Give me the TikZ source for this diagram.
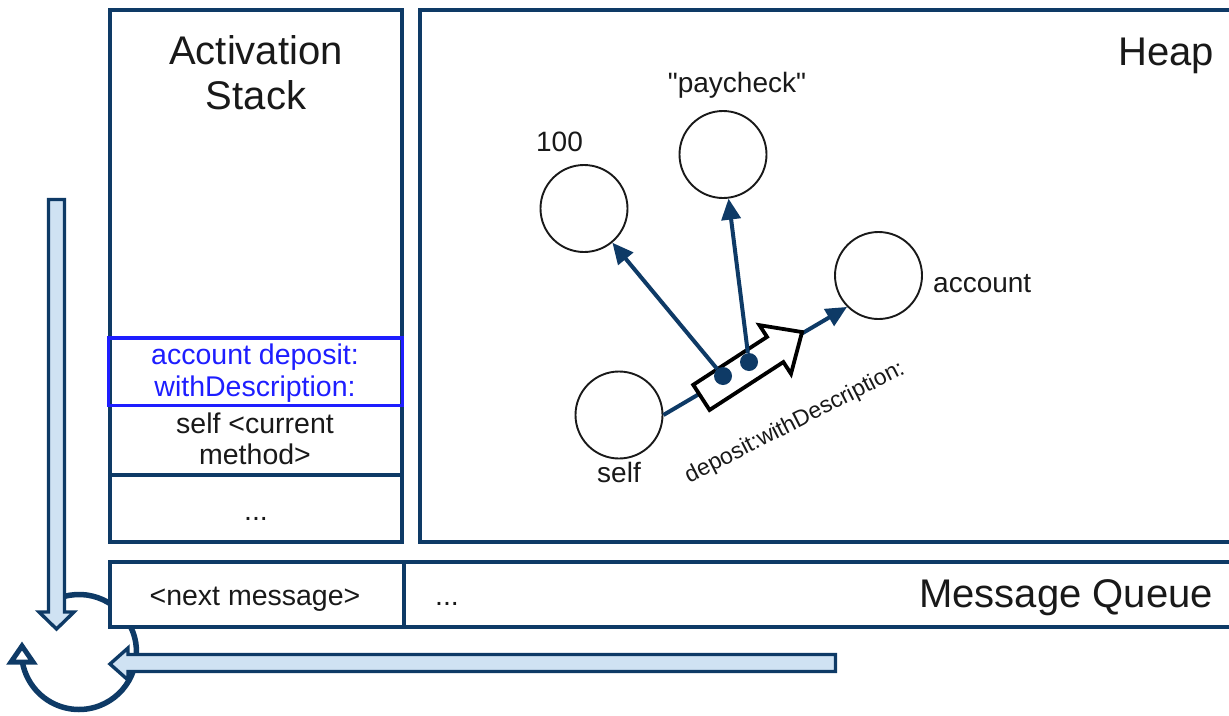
\documentclass[tikz,border=0pt]{standalone}
\usepackage{fontspec}
\setmainfont{Liberation Sans}
\newfontfamily\rawfont{Liberation Sans}[Ligatures=TeXOff]
\usetikzlibrary{arrows.meta}
\definecolor{navy}{RGB}{14,58,102}
\definecolor{ink}{RGB}{25,25,25}
\definecolor{lightblue}{RGB}{207,226,243}
\definecolor{callblue}{RGB}{30,30,255}
\begin{document}
\begin{tikzpicture}[x=1pt,y=1pt,
  frame/.style={draw=navy, line width=4pt},
  callbox/.style={draw=callblue, line width=3.4pt},
  title/.style={font=\fontsize{40}{45}\selectfont, text=ink, inner sep=0, align=center},
  body/.style={font=\fontsize{28.5}{31.5}\selectfont, text=ink, inner sep=0, align=center},
  lbl/.style={font=\fontsize{28}{32}\selectfont, text=ink, inner sep=0},
  obj/.style={circle, draw=ink, line width=1.9pt, minimum size=87pt, inner sep=0},
  ref/.style={draw=navy, line width=4pt, -{Triangle[length=21pt,width=19pt]}},
  refdot/.style={circle, fill=navy, minimum size=18pt, inner sep=0},
  bigarrow/.style={draw=navy, fill=lightblue, line width=3.4pt},
  loopline/.style={draw=navy, line width=5.5pt},
  loophead/.style={draw=navy, fill=white, line width=5pt, line join=miter}
]
\useasboundingbox (0,0) rectangle (1229,-715);
\clip (0,0) rectangle (1229,-715);
% cycle arc (behind everything)
\draw[loopline] (79,-652) ++(105:57.5) arc[start angle=105,end angle=-170,radius=57.5];
\draw[loophead] (11,-662) -- (22,-646) -- (33,-662) -- cycle;
% frames
\draw[frame, fill=white] (109.75,-10) rectangle (402,-541.5);
\draw[frame] (109.75,-474.5) -- (402,-474.5);
\draw[callbox] (108.5,-338) rectangle (402.5,-405.5);
\draw[frame, fill=white] (419.5,-10) rectangle (1240,-541.5);
\draw[frame, fill=white] (109.75,-562) rectangle (1240,-627);
\draw[frame] (403.5,-562) -- (403.5,-627);
% big arrows
\draw[bigarrow] (48.5,-199.5) -- (64.5,-199.5) -- (64.5,-612) -- (74,-612) -- (56.5,-629) -- (39,-612) -- (48.5,-612) -- cycle;
\draw[bigarrow] (835.5,-654.5) -- (128,-654.5) -- (128,-648) -- (110,-664) -- (128,-680) -- (128,-671.5) -- (835.5,-671.5) -- cycle;
% texts
\node[title] (stacktitle) at (256,-73) {Activation\\Stack};
\node[title, anchor=base east] (heaptitle) at (1214,-65) {Heap};
\node[title, anchor=base east] (mqtitle) at (1213,-607) {Message Queue};
\node[body, text=callblue] (call) at (255,-373) {account deposit:\\withDescription:};
\node[body] (cur) at (255,-439) {self <current\\method>};
\node[body, anchor=base] (more) at (256,-520) {...};
\node[body, anchor=base] (next) at (255,-605) {<next message>};
\node[body, anchor=base] (rest) at (447,-605) {...};
% heap objects
\node[obj] (self) at (619,-415) {};
\node[obj] (n100) at (584,-208.5) {};
\node[obj] (pay) at (723,-154.5) {};
\node[obj] (acc) at (878.5,-275.5) {};
\node[lbl, anchor=base] (l100) at (559.5,-151.5) {100};
\node[lbl, anchor=base] (lpay) at (737,-92) {\rawfont "paycheck"};
\node[lbl, anchor=base west] (lacc) at (933,-292.5) {account};
\node[lbl, anchor=base] (lself) at (619,-482) {self};
% message send
\draw[ref] (self.east) -- (acc.225);
\begin{scope}[shift={(701.4,-397.4)}, rotate=33]
  \draw[draw=black, line width=3.8pt, fill=white] (0,15) -- (88,15) -- (88,29) -- (120,0) -- (88,-29) -- (88,-15) -- (0,-15) -- cycle;
\end{scope}
\node[refdot] (d1) at (723,-376) {};
\node[refdot] (d2) at (749,-362) {};
\draw[ref] (d1) -- (n100);
\draw[ref] (d2) -- (pay);
\node[lbl, font=\fontsize{23}{26}\selectfont, rotate=27] (sel) at (795,-423) {deposit:withDescription:};
\end{tikzpicture}
\end{document}
